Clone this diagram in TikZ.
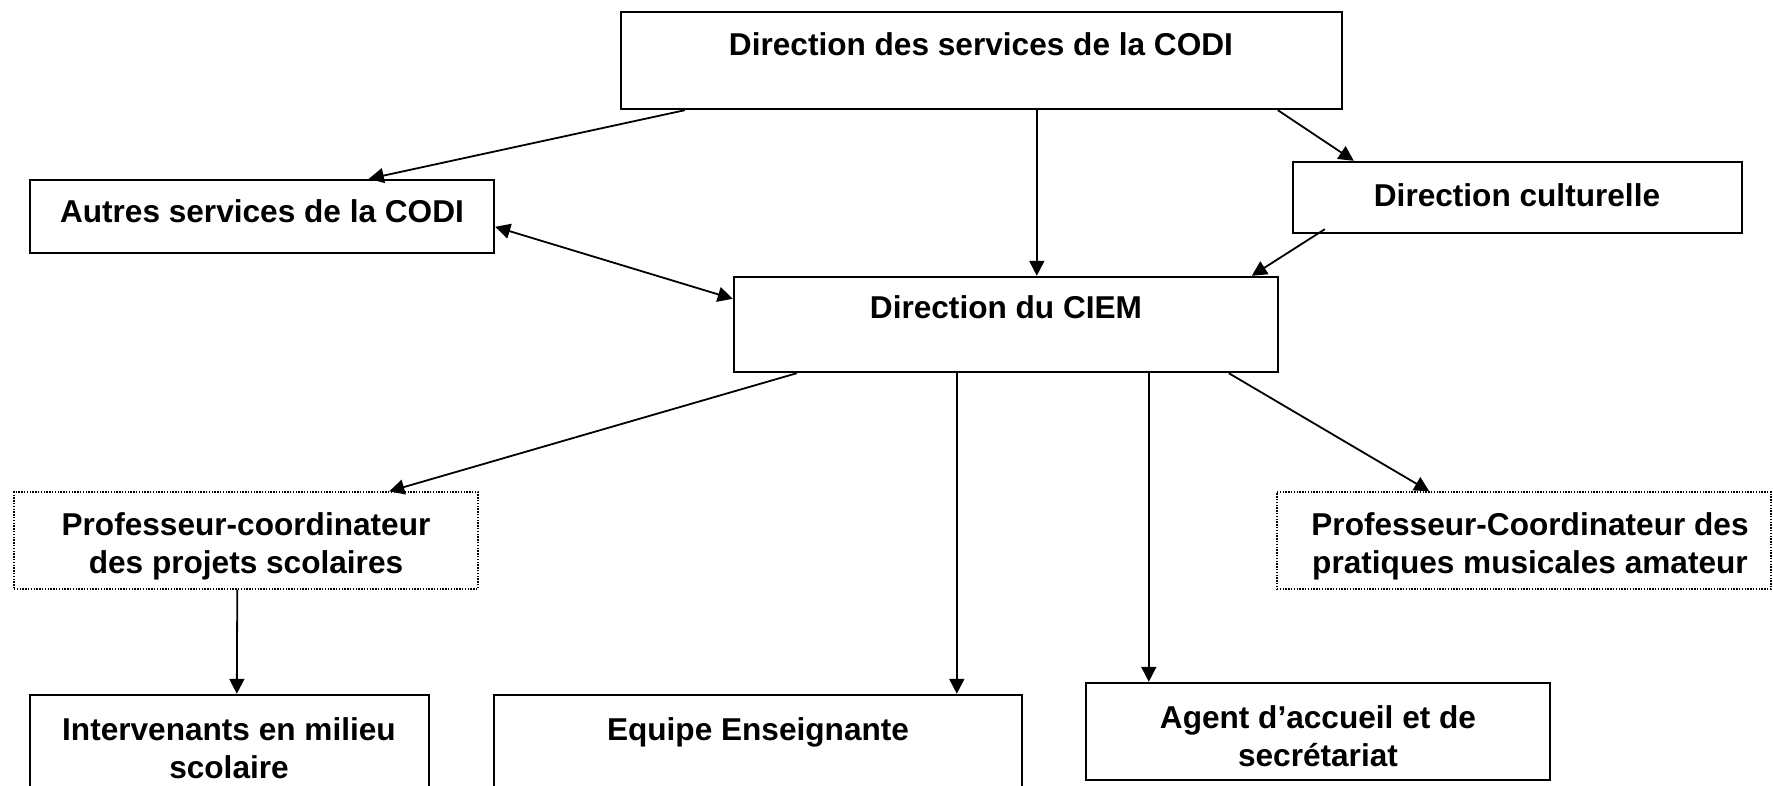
\documentclass[tikz,border=0pt]{standalone}
\usepackage{fontspec}
\setmainfont{Liberation Sans}
\usetikzlibrary{fit,calc,arrows.meta}
\tikzset{
  box/.style={draw, line width=1.2pt, rectangle, inner sep=0pt},
  dotbox/.style={draw, line width=0.7pt, rectangle, inner sep=0pt, dash pattern=on 0.7pt off 0.7pt},
  lbl/.style={anchor=north, inner sep=0pt, align=center, font=\bfseries\fontsize{15.8pt}{19pt}\selectfont},
  conn/.style={line width=0.9pt, -{Triangle[length=7.5pt,width=7.5pt]}},
  bconn/.style={line width=0.9pt, {Triangle[length=7.5pt,width=7.5pt]}-{Triangle[length=7.5pt,width=7.5pt]}}
}
\begin{document}
\begin{tikzpicture}[x=0.5pt,y=-0.5pt]
\useasboundingbox (0,0) rectangle (1773,786);
\clip (0,0) rectangle (1773,786);
\fill[white] (0,0) rectangle (1773,786);

% boxes
\node[box, fit={(621,12) (1342,109)}] (dsc) {};
\node[box, fit={(30,180) (494,253)}] (autres) {};
\node[box, fit={(1293,162) (1742,233)}] (cult) {};
\node[box, fit={(734,277) (1278,372)}] (ciem) {};
\node[dotbox, fit={(14,492) (478,589)}] (prof1) {};
\node[dotbox, fit={(1277,492) (1771,589)}] (prof2) {};
\node[box, fit={(30,695) (429,800)}] (interv) {};
\node[box, fit={(494,695) (1022,800)}] (equipe) {};
\node[box, fit={(1086,683) (1550,780)}] (agent) {};

% texts
\node[lbl] (tdsc) at (981,32) {Direction des services de la CODI};
\node[lbl] (tautres) at (262,199) {Autres services de la CODI};
\node[lbl] (tcult) at (1517,183) {Direction culturelle};
\node[lbl] (tciem) at (1006,295) {Direction du CIEM};
\node[lbl] (tprof1) at (246,512) {Professeur-coordinateur\\des projets scolaires};
\node[lbl] (tprof2) at (1530,512) {Professeur-Coordinateur des\\pratiques musicales amateur};
\node[lbl] (tinterv) at (229,717) {Intervenants en milieu\\scolaire};
\node[lbl] (tequipe) at (758,717) {Equipe Enseignante};
\node[lbl] (tagent) at (1318,705) {Agent d’accueil et de\\secrétariat};

% connectors
\draw[conn] ($(dsc.south west)+(65,0)$) -- ($(autres.north west)+(340,0)$);
\draw[conn] ($(dsc.south west)+(417,0)$) -- ($(ciem.north west)+(304,0)$);
\draw[conn] ($(dsc.south west)+(658,0)$) -- ($(cult.north west)+(62,0)$);
\draw[conn] ($(cult.south west)+(33,-5)$) -- ($(ciem.north west)+(519,0)$);
\draw[bconn] ($(autres.north east)+(0,48)$) -- ($(ciem.north west)+(0,23)$);
\draw[conn] ($(ciem.south west)+(64,0)$) -- ($(prof1.north west)+(376,0)$);
\draw[conn] ($(prof1.south west)+(224,0)$) -- ($(interv.north west)+(208,0)$);
\draw[conn] ($(ciem.south west)+(224,0)$) -- ($(equipe.north west)+(464,0)$);
\draw[conn] ($(ciem.south west)+(416,0)$) -- ($(agent.north west)+(64,0)$);
\draw[conn] ($(ciem.south west)+(496,0)$) -- ($(prof2.north west)+(153,0)$);
\end{tikzpicture}
\end{document}
